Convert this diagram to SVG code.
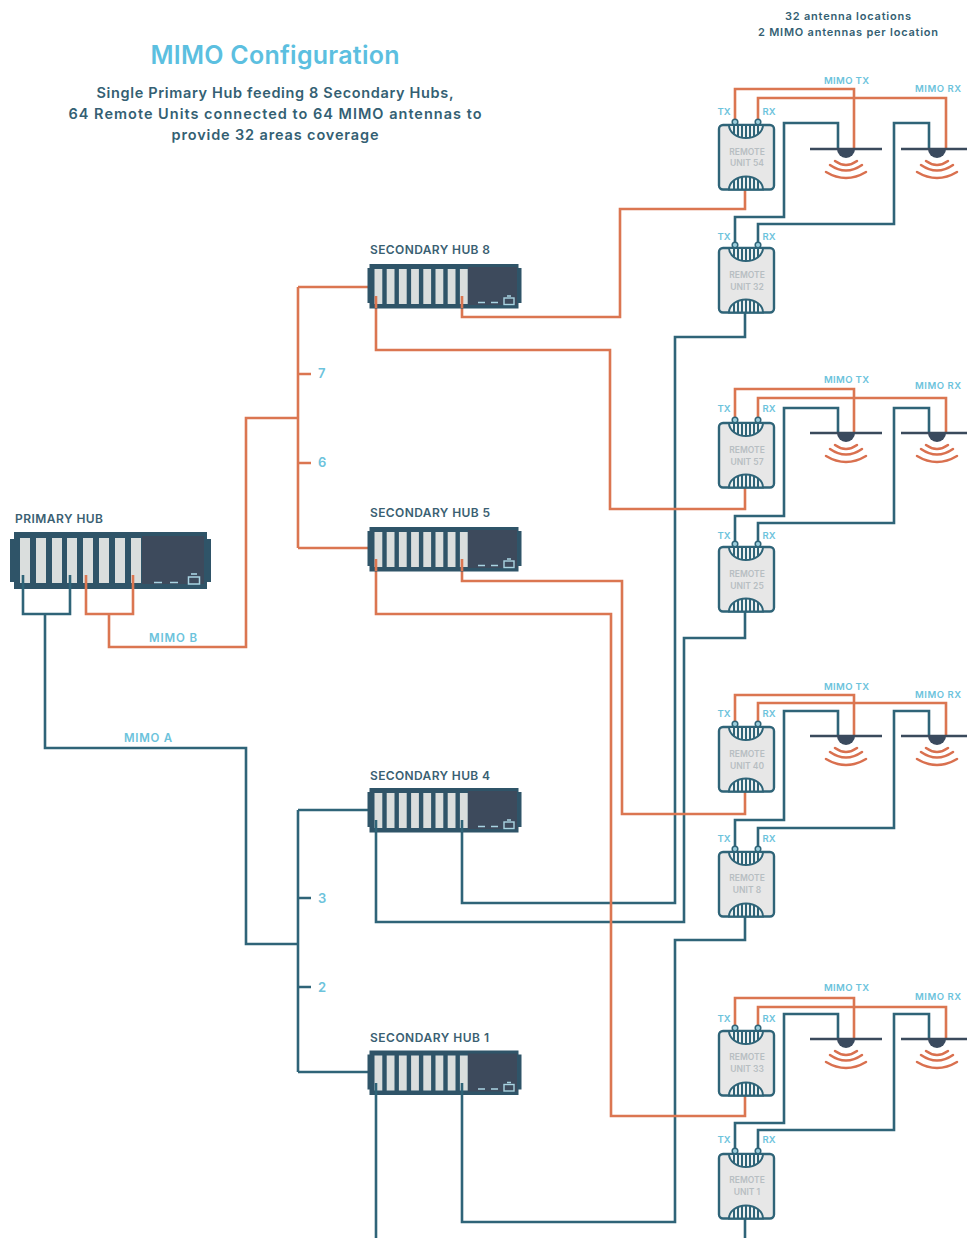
<svg xmlns="http://www.w3.org/2000/svg" width="967" height="1238" viewBox="0 0 967 1238">
<style>
text{font-family:Inter,"Liberation Sans",Arial,sans-serif;font-weight:600}
.c{text-anchor:middle}
.o,.b,.w{fill:none;stroke-linejoin:miter}
.o{stroke:#db7651;stroke-width:2.6}
.b{stroke:#2f6478;stroke-width:2.6}
.w{stroke:#d9704f;stroke-width:2.5;stroke-linecap:round}
.lab{fill:#6cc3dc;font-size:9.5px}
.num{fill:#6cc3dc;font-size:13px}
.mim{fill:#6cc3dc;font-size:11.500px}
.sub{fill:#345f73;font-size:14.500px}
.top{fill:#345f73;font-size:11px}
.rt{fill:#b7bec2;font-size:8.5px}
.hl{fill:#3a6072;font-size:12px}
.sl{fill:#dadedd}
.bar{stroke:#3a4a5c;stroke-width:2.4}
</style>
<defs>
<g id="rem">
<rect x="0" y="0" width="55" height="64.500" rx="4" fill="#e7e7e7" stroke="#2f6478" stroke-width="2.400"/>
<path d="M10 0A17 13 0 0 0 44 0ZM10 64.500A17 13 0 0 1 44 64.500Z" fill="#eef2f2" stroke="#2f6478" stroke-width="2"/>
<path d="M15 0v9.200M19 0v11.500M23 0v12.600M27 0v13M31 0v12.600M35 0v11.500M39 0v9.200M15 64.500v-9.200M19 64.500v-11.500M23 64.500v-12.600M27 64.500v-13M31 64.500v-12.600M35 64.500v-11.500M39 64.500v-9.200" stroke="#2f6478" stroke-width="2"/>
<circle cx="16" cy="-3" r="2.800" fill="#9fd0de" stroke="#2f6478" stroke-width="1.500"/>
<circle cx="39" cy="-3" r="2.800" fill="#9fd0de" stroke="#2f6478" stroke-width="1.500"/>
</g>
<g id="ant">
<path class="bar" d="M-36 0H36" fill="none"/>
<path d="M-9 0A9 9 0 0 0 9 0Z" fill="#3a4a5e"/>
<path class="w" d="M-11 12Q0 20 11 12M-16 16Q0 27 16 16M-20 23Q0 35 20 23"/>
</g>
<g id="hub">
<rect x="-2.500" y="4" width="154" height="35" fill="#2f5468"/>
<rect x="-0.500" y="0" width="149" height="44.500" fill="#2f5468"/>
<rect x="98" y="3" width="49" height="38" fill="#3d4a5c"/>
<rect class="sl" x="4.500" y="5" width="7.800" height="35"/>
<rect class="sl" x="16.700" y="5" width="7.800" height="35"/>
<rect class="sl" x="28.900" y="5" width="7.800" height="35"/>
<rect class="sl" x="41.100" y="5" width="7.800" height="35"/>
<rect class="sl" x="53.300" y="5" width="7.800" height="35"/>
<rect class="sl" x="65.500" y="5" width="7.800" height="35"/>
<rect class="sl" x="77.700" y="5" width="7.800" height="35"/>
<rect class="sl" x="89.900" y="5" width="7.800" height="35"/>
<path d="M108 38.500h7M121 38.500h7" stroke="#a9d4e2" stroke-width="1.500"/>
<rect x="134" y="34" width="10" height="6.500" fill="none" stroke="#a9d4e2" stroke-width="1.400"/>
<path d="M137 32h4" stroke="#a9d4e2" stroke-width="1.500"/>
</g>
</defs>
<rect width="967" height="1238" fill="#ffffff"/>

<g id="header">
<text class="c" x="275" y="64" style="fill:#5cbfe0;font-size:25px" textLength="249" lengthAdjust="spacing">MIMO Configuration</text>
<text class="c sub" x="275" y="98" textLength="357" lengthAdjust="spacing">Single Primary Hub feeding 8 Secondary Hubs,</text>
<text class="c sub" x="275" y="119" textLength="413" lengthAdjust="spacing">64 Remote Units connected to 64 MIMO antennas to</text>
<text class="c sub" x="275" y="140" textLength="207" lengthAdjust="spacing">provide 32 areas coverage</text>
<text class="c top" x="848" y="20" textLength="126" lengthAdjust="spacing">32 antenna locations</text>
<text class="c top" x="848" y="36" textLength="180" lengthAdjust="spacing">2 MIMO antennas per location</text>
</g>

<g id="connectors">
<path class="b" d="M23 575V614H70V575M45 614V748H246V944H298M298 810V1072M298 810H370M298 1072H370M298 898H311M298 987H311"/>
<path class="o" d="M86 575V614H133V575M109 614V647H246V418H298M298 287V548M298 287H370M298 548H370M298 374H311M298 463H311"/>
<path class="o" d="M745 189V209H620V317H462V300"/>
<path class="b" d="M745 313V337H675V903H462V824"/>
<path class="o" d="M745 488V509H610V350H376V300"/>
<path class="b" d="M745 612V638H684V922H376V824"/>
<path class="o" d="M745 792V814H622V581H462V563"/>
<path class="b" d="M745 917V940H675V1222H462V1087"/>
<path class="o" d="M745 1096V1116H611V614H376V563"/>
<path class="b" d="M745 1218V1238M376 1087V1238"/>
<path class="o" d="M735 122V89H854V149M758 122V98H946V149"/>
<path class="b" d="M735 245V217H784V123H838V149M758 245V224H894V123H929V149"/>
<path class="o" d="M735 420V389H854V433M758 420V398H946V433"/>
<path class="b" d="M735 544V516H784V408H838V433M758 544V523H894V408H929V433"/>
<path class="o" d="M735 724V695H854V736M758 724V703H946V736"/>
<path class="b" d="M735 849V820H784V711H838V736M758 849V828H894V711H929V736"/>
<path class="o" d="M735 1028V998H854V1039M758 1028V1007H946V1039"/>
<path class="b" d="M735 1151V1123H784V1014H838V1039M758 1151V1130H894V1014H929V1039"/>
</g>

<g id="labels">
<text class="num" x="318" y="378">7</text>
<text class="num" x="318" y="467">6</text>
<text class="num" x="318" y="903">3</text>
<text class="num" x="318" y="992">2</text>
<text class="c mim" x="173" y="642" textLength="48" lengthAdjust="spacing">MIMO B</text>
<text class="c mim" x="148" y="742" textLength="48" lengthAdjust="spacing">MIMO A</text>
</g>

<g id="primary-hub">
<text class="hl" x="15" y="523" textLength="88" lengthAdjust="spacing">PRIMARY HUB</text>
<rect x="10" y="539" width="201" height="43" fill="#2f5468"/>
<rect x="14" y="532" width="193" height="57" fill="#2f5468"/>
<rect x="142" y="536" width="62" height="48" fill="#3d4a5c"/>
<rect class="sl" x="20" y="538" width="10" height="45"/>
<rect class="sl" x="36" y="538" width="10" height="45"/>
<rect class="sl" x="52" y="538" width="10" height="45"/>
<rect class="sl" x="67" y="538" width="10" height="45"/>
<rect class="sl" x="83" y="538" width="10" height="45"/>
<rect class="sl" x="99" y="538" width="10" height="45"/>
<rect class="sl" x="115" y="538" width="10" height="45"/>
<rect class="sl" x="131" y="538" width="10" height="45"/>
<path d="M154 582.500h8M170 582.500h8" stroke="#a9d4e2" stroke-width="1.600"/>
<rect x="188.500" y="577" width="11" height="7" fill="none" stroke="#a9d4e2" stroke-width="1.500"/>
<path d="M191 574h6" stroke="#a9d4e2" stroke-width="1.600"/>
<path d="M23 575V589M70 575V589" class="b"/>
<path d="M86 575V589M133 575V589" class="o"/>
</g>

<g id="hub-8"><text class="hl" x="370" y="254" textLength="120" lengthAdjust="spacing">SECONDARY HUB 8</text><use href="#hub" x="370" y="264"/><path class="o" d="M376 296V308M462 296V308"/></g>
<g id="hub-5"><text class="hl" x="370" y="517" textLength="120" lengthAdjust="spacing">SECONDARY HUB 5</text><use href="#hub" x="370" y="527"/><path class="o" d="M376 559V571M462 559V571"/></g>
<g id="hub-4"><text class="hl" x="370" y="780" textLength="120" lengthAdjust="spacing">SECONDARY HUB 4</text><use href="#hub" x="370" y="788"/><path class="b" d="M376 820V832M462 820V832"/></g>
<g id="hub-1"><text class="hl" x="370" y="1042" textLength="119" lengthAdjust="spacing">SECONDARY HUB 1</text><use href="#hub" x="370" y="1050.500"/><path class="b" d="M376 1083V1095M462 1083V1095"/></g>

<g id="unit-54"><use href="#rem" x="719" y="125"/><text class="lab c" x="724" y="115">TX</text><text class="lab c" x="769" y="115">RX</text><text class="rt c" x="747" y="155">REMOTE</text><text class="rt c" x="747" y="166">UNIT 54</text></g>
<g id="unit-32"><use href="#rem" x="719" y="248"/><text class="lab c" x="724" y="240">TX</text><text class="lab c" x="769" y="240">RX</text><text class="rt c" x="747" y="278">REMOTE</text><text class="rt c" x="747" y="290">UNIT 32</text></g>
<g id="unit-57"><use href="#rem" x="719" y="423"/><text class="lab c" x="724" y="412">TX</text><text class="lab c" x="769" y="412">RX</text><text class="rt c" x="747" y="453">REMOTE</text><text class="rt c" x="747" y="465">UNIT 57</text></g>
<g id="unit-25"><use href="#rem" x="719" y="547"/><text class="lab c" x="724" y="539">TX</text><text class="lab c" x="769" y="539">RX</text><text class="rt c" x="747" y="577">REMOTE</text><text class="rt c" x="747" y="589">UNIT 25</text></g>
<g id="unit-40"><use href="#rem" x="719" y="727"/><text class="lab c" x="724" y="717">TX</text><text class="lab c" x="769" y="717">RX</text><text class="rt c" x="747" y="757">REMOTE</text><text class="rt c" x="747" y="769">UNIT 40</text></g>
<g id="unit-8"><use href="#rem" x="719" y="852"/><text class="lab c" x="724" y="842">TX</text><text class="lab c" x="769" y="842">RX</text><text class="rt c" x="747" y="881">REMOTE</text><text class="rt c" x="747" y="893">UNIT 8</text></g>
<g id="unit-33"><use href="#rem" x="719" y="1031"/><text class="lab c" x="724" y="1022">TX</text><text class="lab c" x="769" y="1022">RX</text><text class="rt c" x="747" y="1060">REMOTE</text><text class="rt c" x="747" y="1072">UNIT 33</text></g>
<g id="unit-1"><use href="#rem" x="719" y="1154"/><text class="lab c" x="724" y="1143">TX</text><text class="lab c" x="769" y="1143">RX</text><text class="rt c" x="747" y="1183">REMOTE</text><text class="rt c" x="747" y="1195">UNIT 1</text></g>

<g id="antennas-a"><use href="#ant" x="846" y="149"/><use href="#ant" x="937" y="149"/><text class="lab c" x="846.500" y="84" textLength="45" lengthAdjust="spacing">MIMO TX</text><text class="lab c" x="938" y="92" textLength="46" lengthAdjust="spacing">MIMO RX</text></g>
<g id="antennas-b"><use href="#ant" x="846" y="433"/><use href="#ant" x="937" y="433"/><text class="lab c" x="846.500" y="383" textLength="45" lengthAdjust="spacing">MIMO TX</text><text class="lab c" x="938" y="389" textLength="46" lengthAdjust="spacing">MIMO RX</text></g>
<g id="antennas-c"><use href="#ant" x="846" y="736"/><use href="#ant" x="937" y="736"/><text class="lab c" x="846.500" y="690" textLength="45" lengthAdjust="spacing">MIMO TX</text><text class="lab c" x="938" y="698" textLength="46" lengthAdjust="spacing">MIMO RX</text></g>
<g id="antennas-d"><use href="#ant" x="846" y="1039"/><use href="#ant" x="937" y="1039"/><text class="lab c" x="846.500" y="991" textLength="45" lengthAdjust="spacing">MIMO TX</text><text class="lab c" x="938" y="1000" textLength="46" lengthAdjust="spacing">MIMO RX</text></g>
</svg>
